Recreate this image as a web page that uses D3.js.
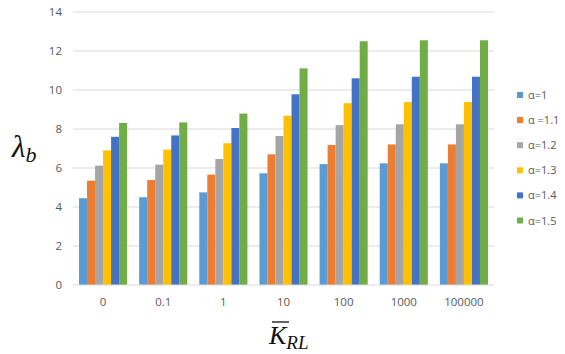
<!DOCTYPE html>
<html>
<head>
<meta charset="utf-8">
<script src="https://cdn.jsdelivr.net/npm/d3@7"></script>
<style>
  body { margin: 0; background: #fff; }
  svg { display: block; }
</style>
</head>
<body>
<svg id="chart" width="565" height="354"></svg>
<script>
const categories = ["0", "0.1", "1", "10", "100", "1000", "100000"];
const seriesNames = ["α=1", "α =1.1", "α=1.2", "α=1.3", "α=1.4", "α=1.5"];
const seriesColors = ["#5B9BD5", "#ED7D31", "#A5A5A5", "#FFC000", "#4472C4", "#70AD47"];
const a10 = [4.45, 4.50, 4.75, 5.73, 6.20, 6.24, 6.24];
const a11 = [5.35, 5.38, 5.66, 6.70, 7.18, 7.21, 7.21];
const a12 = [6.12, 6.17, 6.46, 7.64, 8.20, 8.24, 8.24];
const a13 = [6.90, 6.94, 7.27, 8.68, 9.32, 9.38, 9.38];
const a14 = [7.60, 7.67, 8.05, 9.78, 10.60, 10.68, 10.68];
const a15 = [8.31, 8.34, 8.79, 11.11, 12.50, 12.55, 12.55];
const seriesValues = [a10, a11, a12, a13, a14, a15];
const yTicks = [0, 2, 4, 6, 8, 10, 12, 14];

(function () {
const svg = d3.select("#chart");
const pLeft = 73, pRight = 494, pTop = 12, pBottom = 285;
const textColor = "#595959";
const tickFont = "Open Sans, Liberation Sans, sans-serif";

const x = d3.scaleBand().domain(categories).range([pLeft, pRight]).paddingInner(0.2).paddingOuter(0.1);
const xs = d3.scaleBand().domain(seriesNames).range([0, x.bandwidth()]);
const y = d3.scaleLinear().domain([0, 14]).range([pBottom, pTop]);

// gridlines
svg.append("g").selectAll("line").data(yTicks.filter(d => d > 0)).join("line")
  .attr("x1", pLeft).attr("x2", pRight)
  .attr("y1", d => y(d)).attr("y2", d => y(d))
  .attr("stroke", "#d9d9d9").attr("stroke-width", 1);

// bars
const rows = [];
seriesValues.forEach((vals, si) => vals.forEach((v, ci) => rows.push({s: seriesNames[si], c: categories[ci], v, color: seriesColors[si]})));
svg.append("g").selectAll("rect").data(rows).join("rect")
  .attr("x", d => x(d.c) + xs(d.s))
  .attr("width", xs.bandwidth())
  .attr("y", d => y(d.v))
  .attr("height", d => y(0) - y(d.v))
  .attr("fill", d => d.color);

// x axis line
svg.append("line").attr("x1", pLeft).attr("x2", pRight).attr("y1", y(0)).attr("y2", y(0))
  .attr("stroke", "#d9d9d9").attr("stroke-width", 1);

// y tick labels
const yAxis = d3.axisLeft(y).tickValues(yTicks).tickSize(0).tickPadding(0);
const gy = svg.append("g").attr("transform", `translate(${pLeft - 11},0)`).call(yAxis);
gy.select(".domain").remove();
gy.selectAll("text").attr("fill", textColor).style("font-family", tickFont).style("font-size", "11.5px");

// x tick labels
const xAxis = d3.axisBottom(x).tickSize(0).tickPadding(0);
const gx = svg.append("g").attr("transform", `translate(0,${pBottom + 13})`).call(xAxis);
gx.select(".domain").remove();
gx.selectAll("text").attr("fill", textColor).style("font-family", tickFont).style("font-size", "11.5px");

// legend
const lg = svg.append("g").selectAll("g").data(seriesNames).join("g")
  .attr("transform", (d, i) => `translate(517,${95 + i * 25.1})`);
lg.append("rect").attr("x", 0).attr("y", -3).attr("width", 6).attr("height", 6).attr("fill", (d, i) => seriesColors[i]);
lg.append("text").attr("x", 11).attr("y", 4).text(d => d)
  .attr("fill", textColor).style("font-family", tickFont).style("font-size", "11px");

// y title
const yt = svg.append("text").attr("x", 12).attr("y", 157)
  .style("font-family", "Liberation Serif, DejaVu Serif, serif").style("font-style", "italic").attr("fill", "#111");
yt.append("tspan").text("λ").style("font-size", "31px");
yt.append("tspan").text("b").attr("dy", 5).style("font-size", "22px");

// x title
const xt = svg.append("text").attr("x", 269).attr("y", 344)
  .style("font-family", "Liberation Serif, DejaVu Serif, serif").style("font-style", "italic").attr("fill", "#111");
xt.append("tspan").text("K").style("font-size", "26px");
xt.append("tspan").text("RL").attr("dy", 5).style("font-size", "19px");
// overline on K
svg.append("line").attr("x1", 272).attr("x2", 289).attr("y1", 322).attr("y2", 322)
  .attr("stroke", "#111").attr("stroke-width", 1.3);
})();
</script>
</body>
</html>
